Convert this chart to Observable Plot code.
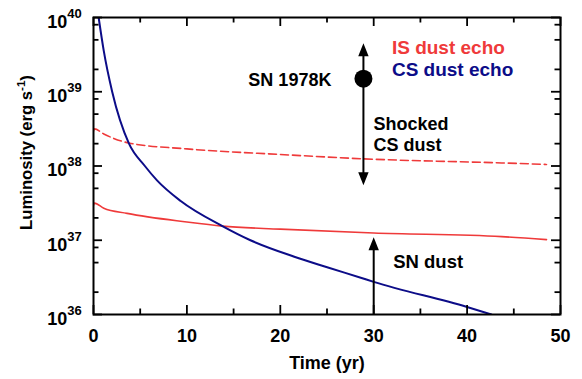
<!DOCTYPE html>
<html>
<head>
<meta charset="utf-8">
<script src="https://cdn.jsdelivr.net/npm/d3@7"></script>
<script src="https://cdn.jsdelivr.net/npm/@observablehq/plot@0.6"></script>
<style>
  html, body { margin: 0; padding: 0; background: #fff; }
  #chart { width: 582px; height: 379px; }
</style>
</head>
<body>
<div id="chart"></div>
<script>
// ---- data ----
const csTime = [0.55, 1.1, 2.0, 3.8, 5.5, 6.8, 9.3, 13.8, 16.8, 21.5, 25.1, 28.7, 30, 40, 42.6];
const csLum  = [1e40, 3.55e39, 1e39, 2.0e38, 1e38, 6.4e37, 3.4e37, 1.55e37, 1.0e37, 6.0e36, 4.3e36, 3.1e36, 2.75e36, 1.26e36, 1.0e36];

const isHighTime = [0, 0.1, 1.1, 3.8, 10, 20, 28.8, 43.7, 48.5];
const isHighLum  = [2.95e38, 3.16e38, 2.7e38, 2.04e38, 1.7e38, 1.43e38, 1.25e38, 1.1e38, 1.05e38];

const isLowTime = [0, 0.1, 1.1, 3.6, 10, 13.8, 20, 30, 43.7, 48.5];
const isLowLum  = [2.95e37, 3.16e37, 2.7e37, 2.3e37, 1.76e37, 1.55e37, 1.41e37, 1.25e37, 1.12e37, 1.02e37];

const sn1978k = {t: 28.9, L: 1.5e39, upTip: 4.5e39, downTip: 5.5e37};
const snDust = {t: 30, from: 1e36, tip: 1.1e37};

const xMajor = [0, 10, 20, 30, 40, 50];
const xMinor = [5, 15, 25, 35, 45];
const yMajor = [1e36, 1e37, 1e38, 1e39, 1e40];
const yMinor = [2e36, 5e36, 8e36, 2e37, 5e37, 8e37, 2e38, 5e38, 8e38, 2e39, 5e39, 8e39];

const xLabel = "Time (yr)";
const yLabelParts = ["Luminosity (erg s", "-1", ")"];
const legendIS = "IS dust echo";
const legendCS = "CS dust echo";

// ---- build tables ----
const cs = csTime.map((t, i) => ({t, L: csLum[i]}));
const isHigh = isHighTime.map((t, i) => ({t, L: isHighLum[i]}));
const isLow = isLowTime.map((t, i) => ({t, L: isLowLum[i]}));

const RED = "#ef3a3a";
const NAVY = "#0c0c88";
const FONT = "'Liberation Sans', Arial, Helvetica, sans-serif";

const W = 582, H = 379, ML = 93, MR = 22, MT = 17, MB = 65;
const FW = W - ML - MR, FH = H - MT - MB;
const MAJ = 9, MIN = 5.5;
const YLABEL_LEN = 155;

const headUp = {draw(ctx) { ctx.moveTo(0, 0); ctx.lineTo(5.2, 13); ctx.lineTo(-5.2, 13); ctx.closePath(); }};
const headDown = {draw(ctx) { ctx.moveTo(0, 0); ctx.lineTo(5.2, -13); ctx.lineTo(-5.2, -13); ctx.closePath(); }};

const tk = {stroke: "#000", strokeWidth: 1.8};

const chart = Plot.plot({
  width: W,
  height: H,
  marginLeft: ML,
  marginRight: MR,
  marginTop: MT,
  marginBottom: MB,
  style: {fontFamily: FONT, fontWeight: "bold", background: "#fff", color: "#000"},
  x: {domain: [0, 50], axis: null},
  y: {type: "log", domain: [1e36, 1e40], axis: null},
  marks: [
    // curves
    Plot.line(isHigh, {x: "t", y: "L", stroke: RED, strokeWidth: 1.6, strokeDasharray: "8,4", curve: "monotone-x", clip: true}),
    Plot.line(isLow, {x: "t", y: "L", stroke: RED, strokeWidth: 1.6, curve: "monotone-x", clip: true}),
    Plot.line(cs, {x: "t", y: "L", stroke: NAVY, strokeWidth: 2, curve: "monotone-x", clip: true}),

    // SN 1978K arrow + point
    Plot.ruleX([sn1978k], {x: "t", y1: d => d.upTip * 0.8, y2: d => d.downTip * 1.25, stroke: "#000", strokeWidth: 2}),
    Plot.dot([sn1978k], {x: "t", y: "upTip", symbol: headUp, fill: "#000", stroke: "none"}),
    Plot.dot([sn1978k], {x: "t", y: "downTip", symbol: headDown, fill: "#000", stroke: "none"}),
    Plot.dot([sn1978k], {x: "t", y: "L", r: 9, fill: "#000"}),
    Plot.text([sn1978k], {x: "t", y: "L", text: () => "SN 1978K", textAnchor: "end", lineAnchor: "middle", dx: -32, dy: 1.5, fontSize: 18, fontWeight: "bold", fill: "#000"}),
    Plot.text([sn1978k], {x: "t", y: () => 2.75e38, text: () => "Shocked\nCS dust", textAnchor: "start", lineAnchor: "middle", dx: 10, fontSize: 18, lineHeight: 1.2, fontWeight: "bold", fill: "#000"}),

    // SN dust arrow
    Plot.ruleX([snDust], {x: "t", y1: "from", y2: d => d.tip * 0.8, stroke: "#000", strokeWidth: 2}),
    Plot.dot([snDust], {x: "t", y: "tip", symbol: headUp, fill: "#000", stroke: "none"}),
    Plot.text([snDust], {x: "t", y: () => 5.1e36, text: () => "SN dust", textAnchor: "start", lineAnchor: "middle", dx: 19.5, fontSize: 18.5, fontWeight: "bold", fill: "#000"}),

    // legend texts
    Plot.text([legendIS], {x: () => 31.95, y: () => 3.95e39, text: d => d, textAnchor: "start", lineAnchor: "middle", fontSize: 19, fontWeight: "bold", fill: RED}),
    Plot.text([legendCS], {x: () => 31.95, y: () => 1.96e39, text: d => d, textAnchor: "start", lineAnchor: "middle", fontSize: 19, fontWeight: "bold", fill: NAVY}),

    // inward ticks
    Plot.tickX(xMajor, {x: d => d, insetTop: FH - MAJ, ...tk}),
    Plot.tickX(xMinor, {x: d => d, insetTop: FH - MIN, ...tk}),
    Plot.tickX(xMajor, {x: d => d, insetBottom: FH - MAJ, ...tk}),
    Plot.tickX(xMinor, {x: d => d, insetBottom: FH - MIN, ...tk}),
    Plot.tickY(yMajor, {y: d => d, insetRight: FW - MAJ, ...tk}),
    Plot.tickY(yMinor, {y: d => d, insetRight: FW - MIN, ...tk}),
    Plot.tickY(yMajor, {y: d => d, insetLeft: FW - MAJ, ...tk}),
    Plot.tickY(yMinor, {y: d => d, insetLeft: FW - MIN, ...tk}),

    // tick labels
    Plot.text(xMajor, {x: d => d, frameAnchor: "bottom", textAnchor: "middle", lineAnchor: "middle", dy: 21.4, text: d => String(d), fontSize: 18, fontWeight: "bold", fill: "#000"}),
    Plot.text(yMajor, {y: d => d, frameAnchor: "left", lineAnchor: "middle", dx: -26.3, dy: 4.5, textAnchor: "end", text: () => "10", fontSize: 18, fontWeight: "bold", fill: "#000"}),
    Plot.text(yMajor, {y: d => d, frameAnchor: "left", lineAnchor: "middle", dx: -26.3, dy: -3.8, textAnchor: "start", text: d => String(Math.round(Math.log10(d))), fontSize: 13, fontWeight: "bold", fill: "#000"}),

    // axis titles
    Plot.text([xLabel], {frameAnchor: "bottom", textAnchor: "middle", lineAnchor: "middle", dy: 49, text: d => d, fontSize: 18, fontWeight: "bold", fill: "#000"}),
    Plot.text([yLabelParts.join("")], {className: "ylab", frameAnchor: "left", textAnchor: "middle", lineAnchor: "middle", dx: -67, dy: -13.5, rotate: -90, text: d => d, fontSize: 17, fontWeight: "bold", fill: "#000"}),

    Plot.frame({stroke: "#000", strokeWidth: 2})
  ]
});
document.getElementById("chart").appendChild(chart);

// superscript in the y-axis title, sized to the reference's length
const yl = chart.querySelector("g.ylab text");
if (yl) {
  yl.textContent = "";
  const ns = "http://www.w3.org/2000/svg";
  const t1 = document.createElementNS(ns, "tspan");
  t1.textContent = yLabelParts[0];
  const t2 = document.createElementNS(ns, "tspan");
  t2.textContent = yLabelParts[1];
  const t3 = document.createElementNS(ns, "tspan");
  t3.textContent = yLabelParts[2];
  yl.append(t1, t2, t3);
  const setSize = (fs) => {
    yl.style.fontSize = fs + "px";
    t2.style.fontSize = (fs * 0.7) + "px";
    t2.setAttribute("dy", String(-fs * 0.4));
    t3.setAttribute("dy", String(fs * 0.4));
  };
  setSize(17);
  const len = yl.getComputedTextLength();
  if (len > 0) setSize(Math.max(13, Math.min(20, 17 * YLABEL_LEN / len)));
}
</script>
</body>
</html>
